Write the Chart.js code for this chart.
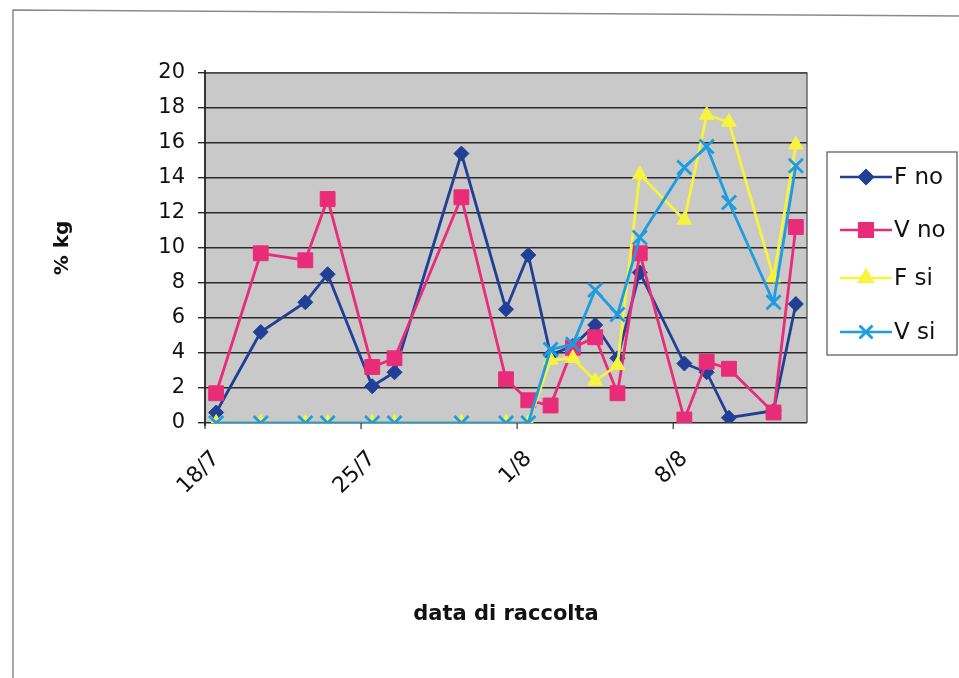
<!DOCTYPE html>
<html>
<head>
<meta charset="utf-8">
<script src="https://cdn.jsdelivr.net/npm/chart.js@4/dist/chart.umd.min.js"></script>
<style>
  html, body { margin: 0; padding: 0; background: #ffffff; }
  #wrap { position: relative; width: 959px; height: 678px; }
</style>
</head>
<body>
<div id="wrap"><canvas id="c" width="959" height="678"></canvas></div>
<script>
// Collection dates (day/month) and the four series, % kg
const dates = ['18/7','20/7','22/7','23/7','25/7','26/7','29/7','31/7','1/8','2/8','3/8','4/8','5/8','6/8','8/8','9/8','10/8','12/8','13/8'];
const fNo = [0.6, 5.2, 6.9, 8.5, 2.1, 2.9, 15.4, 6.5, 9.6, 3.9, 4.4, 5.6, 3.7, 8.6, 3.4, 2.9, 0.3, 0.7, 6.8];
const vNo = [1.7, 9.7, 9.3, 12.8, 3.2, 3.7, 12.9, 2.5, 1.3, 1.0, 4.3, 4.9, 1.7, 9.7, 0.2, 3.5, 3.1, 0.6, 11.2];
const fSi = [0, 0, 0, 0, 0, 0, 0, 0, 0, 3.6, 3.7, 2.4, 3.3, 14.2, 11.6, 17.6, 17.2, 8.3, 15.9];
const vSi = [0, 0, 0, 0, 0, 0, 0, 0, 0, 4.2, 4.5, 7.6, 6.2, 10.6, 14.6, 15.8, 12.6, 6.9, 14.7];
const tickDates = ['18/7', '25/7', '1/8', '8/8'];
const firstDay = '18/7';
const lastDay = '13/8';

// days elapsed since the first collection date (July/August of the same year)
function dayIndex(s) {
  const [d, m] = s.split('/').map(Number);
  const [d0, m0] = firstDay.split('/').map(Number);
  const t = Date.UTC(2000, m - 1, d);
  const t0 = Date.UTC(2000, m0 - 1, d0);
  return Math.round((t - t0) / 86400000);
}
function toPoints(vals) { return dates.map((d, i) => ({ x: dayIndex(d), y: vals[i] })); }

const FONT = "'DejaVu Sans', 'Liberation Sans', Arial, sans-serif";
const colors = { fNo: '#203f95', vNo: '#e92c78', fSi: '#f6f43c', vSi: '#1d9de0' };

const series = [
  { label: 'F no', data: toPoints(fNo), color: colors.fNo, style: 'rectRot', r: 7.5, order: 4 },
  { label: 'V no', data: toPoints(vNo), color: colors.vNo, style: 'rect', r: 10.5, order: 3 },
  { label: 'F si', data: toPoints(fSi), color: colors.fSi, style: 'triangle', r: 8.5, order: 2 },
  { label: 'V si', data: toPoints(vSi), color: colors.vSi, style: 'crossRot', r: 10, order: 1 }
];

const datasets = series.map(s => ({
  label: s.label,
  data: s.data,
  borderColor: s.color,
  backgroundColor: s.color,
  borderWidth: 2.8,
  pointStyle: s.style,
  pointRadius: s.r,
  pointHoverRadius: s.r,
  pointBorderWidth: s.style === 'crossRot' ? 2.8 : 1,
  pointBackgroundColor: s.color,
  pointBorderColor: s.color,
  tension: 0,
  order: s.order
}));

// gray plot background, frame, day-boundary ticks, legend box and page border
const decor = {
  id: 'decor',
  beforeDraw(chart) {
    const { ctx, chartArea: a } = chart;
    ctx.save();
    ctx.fillStyle = '#c9c9c9';
    ctx.fillRect(a.left, a.top, a.right - a.left, a.bottom - a.top);
    ctx.restore();
  },
  afterDraw(chart) {
    const { ctx, chartArea: a } = chart;
    const xs = chart.scales.x;
    ctx.save();
    // plot frame
    ctx.strokeStyle = '#555';
    ctx.lineWidth = 1.3;
    ctx.beginPath();
    ctx.moveTo(a.left, a.top);
    ctx.lineTo(a.right, a.top);
    ctx.lineTo(a.right, a.bottom);
    ctx.stroke();
    ctx.strokeStyle = '#222';
    ctx.lineWidth = 1.8;
    ctx.beginPath();
    ctx.moveTo(a.left, a.top - 3);
    ctx.lineTo(a.left, a.bottom + 3);
    ctx.stroke();
    // tick marks at the boundary before each labelled day
    ctx.strokeStyle = '#333';
    ctx.lineWidth = 1.2;
    tickDates.forEach(t => {
      const px = xs.getPixelForValue(dayIndex(t) - 0.5);
      ctx.beginPath();
      ctx.moveTo(px, a.bottom);
      ctx.lineTo(px, a.bottom + 6);
      ctx.stroke();
    });

    // legend
    const lx = 827, ly = 152, lw = 130, lh = 203;
    ctx.fillStyle = '#fff';
    ctx.fillRect(lx, ly, lw, lh);
    ctx.strokeStyle = '#555';
    ctx.lineWidth = 1.2;
    ctx.strokeRect(lx, ly, lw, lh);
    const rowsY = [177, 230, 278, 332];
    series.forEach((s, i) => {
      const y = rowsY[i];
      ctx.strokeStyle = s.color;
      ctx.lineWidth = 2.6;
      ctx.beginPath();
      ctx.moveTo(840, y);
      ctx.lineTo(892, y);
      ctx.stroke();
      Chart.helpers.drawPoint(ctx, {
        pointStyle: s.style,
        radius: s.style === 'rect' ? 9.5 : s.r - 1,
        rotation: 0,
        borderWidth: s.style === 'crossRot' ? 2.4 : 1
      }, 866, y);
      ctx.fillStyle = s.color;
      ctx.fill();
      ctx.strokeStyle = s.color;
      ctx.stroke();
      ctx.fillStyle = '#111';
      ctx.font = '23px ' + FONT;
      ctx.textBaseline = 'middle';
      ctx.textAlign = 'left';
      ctx.fillText(s.label, 894, y + 1);
    });

    // page border
    ctx.strokeStyle = '#8a8a8a';
    ctx.lineWidth = 1.5;
    ctx.beginPath();
    ctx.moveTo(13, 678);
    ctx.lineTo(13, 10);
    ctx.lineTo(959, 16);
    ctx.stroke();
    ctx.restore();
  }
};

new Chart(document.getElementById('c'), {
  type: 'line',
  data: { datasets },
  plugins: [decor],
  options: {
    responsive: false,
    animation: false,
    devicePixelRatio: 1,
    layout: { padding: { left: 0, right: 152, top: 73, bottom: 0 } },
    plugins: { legend: { display: false }, tooltip: { enabled: false } },
    elements: { line: { fill: false } },
    scales: {
      x: {
        type: 'linear',
        min: dayIndex(firstDay) - 0.5,
        max: dayIndex(lastDay) + 0.5,
        afterBuildTicks(scale) {
          scale.ticks = tickDates.map(t => ({ value: dayIndex(t) }));
        },
        afterFit(scale) { scale.height = 255; },
        grid: { display: false, drawTicks: true, tickLength: 4 },
        border: { display: false },
        ticks: {
          autoSkip: false,
          minRotation: 45,
          maxRotation: 45,
          padding: 19,
          color: '#111',
          font: { family: FONT, size: 22 },
          callback(value) {
            const i = tickDates.findIndex(t => dayIndex(t) === value);
            return i >= 0 ? tickDates[i] : '';
          }
        },
        title: {
          display: true,
          text: 'data di raccolta',
          color: '#111',
          font: { family: FONT, size: 21, weight: 'bold' },
          padding: { top: 0, bottom: 51 }
        }
      },
      y: {
        min: 0,
        max: 20,
        afterFit(scale) { scale.width = 205; },
        ticks: {
          stepSize: 2,
          padding: 13,
          color: '#111',
          font: { family: FONT, size: 21 }
        },
        grid: {
          color: '#2a2a2a',
          lineWidth: 1.4,
          drawTicks: true,
          tickLength: 7,
          tickColor: '#2a2a2a'
        },
        border: { display: false },
        title: {
          display: true,
          text: '% kg',
          color: '#111',
          font: { family: FONT, size: 20, weight: 'bold' },
          padding: { top: 51, bottom: 0 }
        }
      }
    }
  }
});
</script>
</body>
</html>
